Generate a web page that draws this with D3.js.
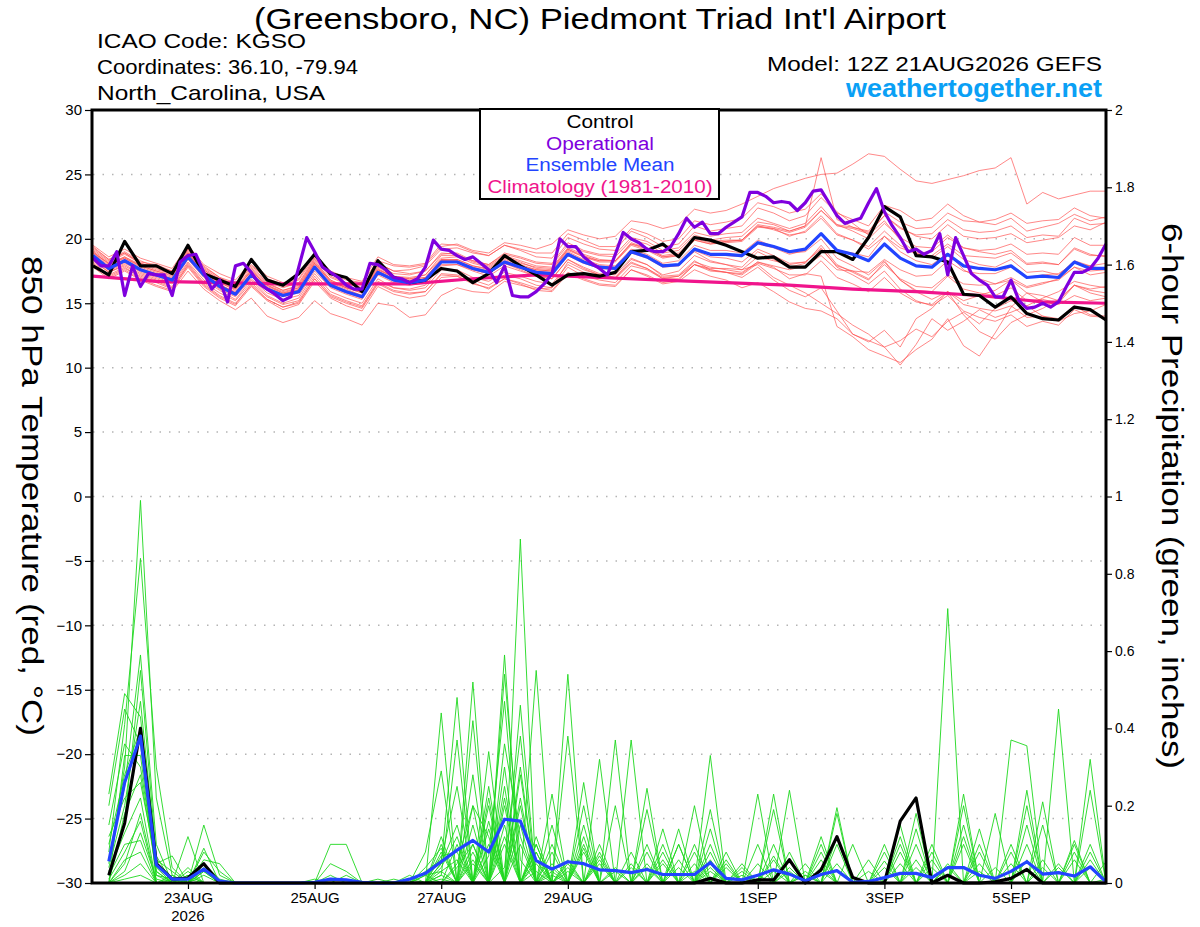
<!DOCTYPE html>
<html>
<head>
<meta charset="utf-8">
<script src="https://cdn.jsdelivr.net/npm/d3@7"></script>
<style>
  body { margin: 0; background: #fff; }
  svg { display: block; }
</style>
</head>
<body>
<svg id="chart" width="1200" height="927"></svg>
<script>

// run: 12Z 21AUG2026, 6-hourly steps 0..64 (operational at 3-hourly 0..128)
var runStart = Date.UTC(2026, 7, 21, 12);

var tempTicks = [-30, -25, -20, -15, -10, -5, 0, 5, 10, 15, 20, 25, 30];
var precipTicks = [0, 0.2, 0.4, 0.6, 0.8, 1, 1.2, 1.4, 1.6, 1.8, 2];
var dateTicks = ["2026-08-23", "2026-08-25", "2026-08-27", "2026-08-29", "2026-09-01", "2026-09-03", "2026-09-05"];

var controlTemp = [17.9,17.2,19.8,17.9,17.9,17.3,19.5,17.3,16.8,16.3, 18.4,16.8,16.4,17.3,18.8,17.3,17.0,15.9,18.3,17.0,
    16.6,16.8,17.7,17.5,16.6,17.3,18.7,17.9,17.2,16.4, 17.2,17.3,17.1,17.4,19.0,19.1,19.6,18.6,20.1,19.9,
    19.5,19.0,18.5,18.6,17.8,17.8,19.0,19.0,18.4,20.1, 22.5,21.7,18.7,18.6,18.2,15.7,15.6,14.7,15.5,14.2,
    13.8,13.7,14.7,14.5,13.7];

var meanTemp = [18.7,17.7,18.3,17.6,17.2,16.8,18.6,17.2,16.3,15.7, 17.2,16.1,15.6,15.9,17.8,16.4,15.9,15.5,17.4,16.8,
    16.6,16.8,18.2,18.2,17.7,17.4,18.2,17.8,17.4,17.3, 18.8,18.2,17.8,17.7,19.0,18.6,17.9,18.0,19.2,18.8,
    18.8,18.7,19.7,19.4,19.0,19.2,20.4,19.1,18.8,18.3, 19.6,18.5,17.9,17.8,18.8,17.9,17.7,17.6,17.9,17.0,
    17.1,17.0,18.2,17.7,17.7];

var operationalTemp = [18.5,17.9,17.9,19.0,15.6,17.9,16.3,17.3,17.2,17.2, 15.6,18.2,18.7,18.8,17.4,16.1,16.8,15.1,17.9,18.1,
    17.4,16.5,16.1,15.7,15.2,15.5,17.8,20.1,19.0,17.8, 17.4,17.0,16.4,16.1,16.1,18.1,18.0,17.6,17.0,16.9,
    16.6,16.9,17.8,19.9,19.2,19.1,18.7,18.4,18.6,18.1, 17.6,16.6,17.9,15.6,15.5,15.5,15.9,16.5,17.3,20.0,
    19.4,19.4,18.6,18.1,17.7,17.2,18.8,20.5,20.0,19.7, 19.2,19.0,19.0,19.4,20.4,21.6,20.9,21.3,20.4,20.4,
    20.9,21.3,21.7,23.6,23.6,23.3,22.8,22.9,22.8,22.2, 22.8,23.7,23.8,22.8,21.8,21.2,21.4,21.6,22.8,23.9,
    22.1,21.0,20.1,19.0,19.2,18.8,19.1,20.4,17.2,20.1, 18.7,17.3,16.8,16.4,15.5,15.5,16.8,15.2,14.6,14.7,
    15.0,14.7,15.1,16.3,17.4,17.4,17.7,18.5,19.6];

// climatology, one value per day at 12Z
var climTemp = [17.1,16.7,16.6,16.5,16.5,16.5,16.9,17.2,17.0,16.8,16.6,16.4,16.1,15.9,15.6,15.1,15.0];

var tempMembers = [
  [19.3,18.4,18.9,18.2,18.0,17.5,19.2,17.9,17.0,16.6, 17.9,16.9,16.5,16.8,18.6,17.3,16.8,16.6,18.3,17.9, 17.8,18.0,19.4,19.6,19.1,18.9,19.7,19.5,19.2,19.6, 20.7,20.3,20.0,20.2,21.4,21.2,20.8,21.1,22.3,22.0, 22.2,22.7,23.3,23.9,24.3,24.7,25.0,25.1,25.8,26.6, 26.4,25.4,24.5,24.3,24.6,24.9,25.3,25.5,26.3,22.7, 23.6,23.1,23.4,23.7,23.7],
  [18.2,17.2,17.8,17.0,16.6,16.1,18.0,16.5,15.6,15.0, 16.4,15.3,14.7,15.0,16.9,15.5,15.0,14.6,16.5,15.9, 15.7,15.9,17.3,17.2,16.8,16.4,17.2,16.9,16.4,16.2, 17.8,17.1,16.8,16.6,17.9,17.6,16.9,17.1,18.0,17.6, 17.4,17.3,18.2,17.8,16.9,17.3,17.1,13.2,12.4,11.4, 10.9,10.4,11.4,12.2,13.8,11.7,10.9,12.7,14.7,15.8, 15.1,14.9,15.6,15.2,15.4],
  [19.0,18.0,18.6,18.0,17.6,17.3,18.9,17.6,16.8,16.2, 17.7,16.6,16.0,16.4,18.3,16.8,16.2,15.9,17.9,17.3, 17.2,17.5,18.8,18.9,18.3,18.0,18.8,18.5,18.1,18.0, 19.5,19.0,18.7,18.6,19.9,19.6,18.9,19.1,20.3,19.9, 20.1,20.2,21.3,21.1,20.6,21.0,26.3,21.5,20.9,20.5, 21.8,20.9,20.2,20.0,21.1,20.2,20.0,20.1,20.4,19.7, 19.9,20.1,21.0,20.7,21.3],
  [18.0,17.0,17.6,16.9,16.4,16.0,17.8,16.3,15.4,14.8, 16.3,15.2,14.5,14.9,16.7,15.4,14.8,14.4,16.3,15.7, 15.4,15.6,17.0,17.1,16.6,16.1,16.9,16.6,16.2,16.0, 17.4,16.9,16.5,16.4,17.6,17.1,16.5,16.7,17.6,17.1, 16.8,16.2,16.6,15.9,15.1,14.6,14.4,13.8,12.6,12.1, 11.6,10.2,11.8,13.8,12.9,13.6,14.5,13.9,14.3,14.8, 14.0,13.6,14.2,14.4,14.9],
  [19.5,18.6,19.2,18.5,18.1,17.7,19.5,18.0,17.3,16.8, 18.2,17.1,16.6,16.9,18.8,17.5,17.0,16.7,18.6,18.0, 17.9,18.1,19.6,19.5,19.0,18.7,19.5,19.1,18.6,18.5, 20.1,19.6,19.2,19.1,20.6,20.1,19.4,19.6,21.0,20.6, 20.8,21.0,22.4,22.0,21.4,21.8,23.2,22.0,21.5,21.0, 22.6,22.2,21.4,21.6,22.7,21.8,21.3,21.1,21.6,20.6, 20.9,21.2,21.9,21.4,21.7],
  [17.8,16.9,17.5,16.8,16.3,15.9,17.5,16.1,15.2,14.5, 15.4,14.0,13.5,13.9,15.2,14.2,13.8,13.3,15.0,14.8, 13.9,14.1,15.6,16.2,15.9,15.8,16.7,16.4,16.1,16.2, 18.2,17.6,17.2,17.0,18.4,18.0,17.2,17.5,18.7,18.2, 18.0,17.8,19.0,18.4,17.8,18.1,19.5,18.0,17.4,16.8, 18.2,16.8,16.0,15.9,17.1,16.1,15.8,15.6,16.2,15.2, 15.3,15.0,16.4,16.0,15.8],
  [18.9,18.1,18.5,17.9,17.5,17.2,18.8,17.4,16.6,16.0, 17.5,16.4,15.9,16.2,18.1,16.7,16.2,15.8,17.7,17.0, 16.9,17.2,18.5,18.6,18.1,17.8,18.6,18.2,17.7,17.6, 19.2,18.6,18.2,18.2,19.5,19.1,18.5,18.7,19.9,19.6, 19.8,19.9,21.0,20.8,20.2,20.6,21.8,20.4,19.9,19.2, 20.2,19.0,18.3,18.0,18.9,17.6,16.9,16.5,16.8,15.8, 15.6,15.2,16.4,15.8,15.5],
  [18.5,17.6,18.2,17.4,17.0,16.6,18.4,17.0,16.1,15.5, 16.9,15.8,15.3,15.6,17.5,16.2,15.7,15.3,17.2,16.6, 16.4,16.6,18.0,18.0,17.5,17.1,17.9,17.5,17.1,16.9, 18.4,17.8,17.3,17.2,18.5,18.0,17.1,17.2,18.3,17.6, 17.4,17.0,17.8,16.8,16.0,15.5,16.2,14.4,12.6,12.0, 12.9,11.6,13.8,14.6,15.9,15.2,15.6,16.0,16.8,16.2, 16.5,16.9,17.8,17.2,17.4],
  [19.1,18.2,18.8,18.1,17.8,17.4,19.1,17.7,16.9,16.4, 18.0,16.9,16.3,16.5,18.4,17.0,16.5,16.2,18.1,17.5, 17.6,17.9,19.2,19.3,18.9,18.7,19.5,19.2,18.9,18.9, 20.4,19.9,19.4,19.4,20.8,20.4,19.8,20.0,21.4,21.1, 21.3,21.6,22.8,22.5,22.0,22.3,23.5,22.1,21.2,20.3, 21.4,19.9,18.9,18.5,19.4,18.4,18.0,17.8,18.4,17.4, 17.5,17.2,18.3,17.9,17.6],
  [18.4,17.4,18.0,17.3,16.9,16.5,18.2,16.8,16.0,15.3, 16.8,15.6,15.0,15.4,17.3,15.9,15.4,15.0,16.9,16.2, 16.0,16.2,17.6,17.6,17.0,16.7,17.4,17.1,16.7,16.5, 18.0,17.4,17.0,16.9,18.1,17.7,17.0,17.1,18.2,17.8, 17.6,17.4,18.2,17.9,17.6,17.9,18.7,17.6,17.5,17.4, 18.4,17.6,17.1,17.2,18.3,17.5,17.3,17.3,17.8,17.0, 17.2,17.3,18.1,17.9,18.1],
  [18.8,17.8,18.4,17.7,17.3,16.9,18.7,17.3,16.4,15.9, 17.3,16.2,15.7,16.1,17.9,16.5,16.0,15.6,17.5,16.9, 16.7,16.9,18.3,18.3,17.8,17.5,18.3,17.9,17.5,17.4, 18.9,18.3,17.9,17.8,19.1,18.7,18.0,18.0,19.0,18.3, 18.0,17.6,18.0,17.0,16.4,15.8,15.0,14.2,13.3,12.6, 11.6,12.1,13.0,12.4,13.6,14.3,13.4,14.6,15.2,14.8, 15.4,15.9,16.7,16.4,16.2],
  [18.6,17.5,18.1,17.5,17.1,16.7,18.5,17.1,16.2,15.6, 17.1,16.0,15.5,15.8,17.7,16.3,15.8,15.4,17.3,16.8, 16.6,16.8,18.3,18.4,17.9,17.7,18.5,18.1,17.8,17.7, 19.2,18.7,18.3,18.3,19.6,19.2,18.6,18.8,20.0,19.7, 19.8,19.9,21.1,20.9,20.6,21.0,22.2,21.0,20.8,20.4, 21.8,20.8,20.3,20.4,21.5,20.7,20.5,20.6,21.0,20.1, 20.3,20.2,21.6,21.1,21.2],
  [19.2,18.3,18.9,18.1,17.7,17.3,19.0,17.6,16.7,16.1, 17.6,16.5,16.0,16.3,18.2,16.8,16.3,15.9,17.8,17.1, 16.9,17.0,18.4,18.3,17.7,17.3,18.1,17.6,17.1,16.9, 18.4,17.7,17.2,17.0,18.2,17.7,16.9,16.9,18.0,17.5, 17.4,17.2,18.1,17.7,17.2,17.2,18.3,17.0,16.5,15.9, 17.0,15.8,15.1,14.9,15.9,14.9,14.6,14.4,14.8,13.9, 14.0,13.8,14.8,14.1,14.0],
  [18.3,17.4,17.9,17.2,16.8,16.3,18.1,16.6,15.8,15.2, 16.6,15.5,14.9,15.2,17.1,15.7,15.2,14.8,16.7,16.2, 16.1,16.4,17.9,18.0,17.6,17.3,18.2,17.9,17.6,17.5, 19.1,18.6,18.3,18.3,19.6,19.3,18.7,18.9,20.1,19.8, 19.9,19.9,21.0,20.7,20.3,20.5,21.6,20.3,19.9,19.4, 20.6,19.5,18.8,18.7,19.6,18.7,18.6,18.5,18.9,18.0, 18.1,18.0,19.2,18.7,18.7],
  [18.9,17.9,18.5,17.8,17.4,17.0,18.9,17.4,16.5,15.8, 17.4,16.3,15.8,16.0,18.0,16.6,16.1,15.6,17.6,17.0, 16.8,17.0,18.4,18.4,17.9,17.6,18.4,18.0,17.6,17.5, 19.0,18.4,18.0,17.9,19.2,18.8,18.1,18.3,19.5,19.1, 19.1,18.9,19.9,19.4,18.9,19.0,20.0,18.5,17.9,17.2, 18.3,16.8,15.9,15.3,15.9,14.1,12.8,12.2,13.5,14.1, 14.6,15.3,16.4,16.1,16.3],
  [19.4,18.4,19.0,18.3,17.8,17.5,19.2,17.8,17.0,16.4, 17.8,16.7,16.2,16.6,18.5,17.1,16.6,16.2,18.1,17.5, 17.3,17.5,18.9,18.8,18.2,17.9,18.7,18.3,17.9,17.8, 19.3,18.8,18.4,18.3,19.7,19.3,18.6,18.7,19.9,19.6, 19.7,19.8,20.9,20.8,20.5,20.9,22.2,21.1,20.9,20.6, 22.1,21.3,20.8,20.9,22.0,21.4,21.3,21.5,22.0,21.2, 21.4,21.5,22.4,21.8,21.6],
  [18.1,17.1,17.7,17.1,16.7,16.2,17.9,16.4,15.5,14.9, 16.5,15.3,14.7,15.1,16.9,15.6,15.1,14.7,16.6,16.0, 15.8,15.9,17.2,17.1,16.5,16.2,16.9,16.5,16.0,15.9, 17.3,16.8,16.4,16.3,17.6,17.2,16.6,16.8,18.0,17.7, 17.7,17.6,18.6,18.3,18.0,18.2,19.2,17.9,17.5,16.9, 18.0,16.9,16.3,16.2,17.2,16.5,16.4,16.5,17.0,16.3, 16.6,16.8,17.8,17.5,17.6],
  [19.0,18.1,18.6,17.9,17.5,17.1,18.8,17.5,16.6,16.1, 17.5,16.4,15.8,16.2,18.1,16.7,16.2,15.8,17.6,17.1, 17.0,17.2,18.7,18.7,18.3,18.0,18.9,18.6,18.2,18.1, 19.7,19.1,18.8,18.8,20.1,19.8,19.1,19.3,20.5,20.2, 20.4,20.5,21.6,21.2,20.8,21.2,22.5,21.1,20.6,20.0, 21.2,20.1,19.4,19.3,20.3,19.3,19.0,18.8,19.1,18.1, 18.2,18.0,19.3,18.8,18.6],
  [18.6,17.6,18.2,17.6,17.2,16.8,18.6,17.1,16.3,15.7, 17.2,16.1,15.6,15.9,17.8,16.4,15.9,15.5,17.4,16.8, 16.6,16.8,18.2,18.2,17.6,17.3,18.1,17.7,17.3,17.2, 18.7,18.1,17.7,17.6,18.9,18.5,17.8,17.9,19.1,18.6, 18.5,18.2,19.2,18.7,18.1,18.2,19.3,17.8,17.2,16.5, 17.5,16.1,15.2,14.8,15.6,14.4,13.9,13.6,14.1,13.2, 13.6,13.3,14.5,14.0,13.9],
  [18.7,17.8,18.3,17.6,17.3,16.9,18.6,17.3,16.4,15.8, 17.3,16.2,15.7,16.0,17.9,16.4,15.9,15.5,17.5,16.9, 16.7,16.9,18.3,18.2,17.7,17.4,18.1,17.8,17.4,17.3, 18.8,18.2,17.8,17.7,19.0,18.6,17.9,18.0,19.2,18.8, 18.7,18.6,19.6,19.3,18.8,19.1,20.3,19.1,18.9,18.6, 20.2,19.3,18.9,19.0,20.1,19.3,19.1,19.2,19.6,18.8, 18.9,18.8,20.1,19.5,19.5]
];

// 6-hour precipitation (inches), steps 1..64
var controlPrecip = [.02,.155,.4,.05,.01,.013,.05,0, 0,0,0,0,0,0,0,0, 0,0,0,0,0,0,0,0, 0,0,0,0,0,0,0,0,
    0,0,0,0,0,0,.012,0, 0,.008,.008,.06,0,.034,.12,.014, 0,0,.16,.22,0,.02,0,0, .003,.012,.035,0,0,0,0,0];

var meanPrecip = [.056,.26,.38,.047,.01,.01,.036,.005, 0,0,0,0,0,.002,.01,.008, .002,0,0,.01,.025,.055,.085,.11,
    .08,.165,.16,.058,.036,.055,.05,.034, .032,.027,.035,.022,.022,.022,.053,.012, .008,.02,.034,.023,.006,.022,.032,.002,
    .004,.014,.025,.025,.014,.04,.04,.02, .012,.03,.055,.023,.027,.018,.042,.003];

var precipMembers = [
  [.05,.3,.99,.22,.02,0,0,0, 0,0,0,0,0,0,0,0, 0,0,0,0,0,.44,0,.1, 0,.59,0,.55,0,0,.26,0, 0,0,.245,0,0,0,.33,0, 0,0,.23,0,0,.03,0,0, 0,0,.15,0,0,0,.12,0, 0,0,.24,0,0,0,.06,0],
  [.2,.45,.36,.02,.01,0,.15,.02, 0,0,0,0,0,0,0,0, 0,0,0,.02,0,.05,.48,0, .34,0,.89,0,0,.54,0,0, .37,0,0,0,.1,0,0,.05, 0,0,.03,0,.03,0,.05,0, 0,0,0,.18,0,0,0,.14, 0,0,0,0,.45,0,0,0],
  [.02,.16,.55,.07,0,.02,0,0, 0,0,0,0,0,0,.1,.1, 0,0,0,0,0,.1,0,.52, 0,.54,.06,0,.23,0,0,.32, 0,0,0,.14,0,0,.05,0, 0,.23,0,0,0,.04,0,0, .06,0,0,0,0,.71,0,0, 0,0,.06,0,0,0,.08,0],
  [.12,.22,.26,.05,.07,0,.09,0, 0,0,0,0,0,0,0,0, 0,0,0,0,.08,.29,0,0, .16,0,.46,0,0,.38,0,0, .03,0,0,0,0,.2,0,0, .03,0,0,0,.02,0,0,0, 0,.04,0,0,0,0,.23,0, 0,0,0,.06,0,0,0,.055],
  [.23,.49,.43,.03,0,.12,0,0, 0,0,0,0,0,0,0,0, 0,0,.01,0,0,.02,.37,0, .07,.47,0,.12,0,0,.2,0, 0,0,.19,0,0,0,.19,0, 0,0,.19,0,0,0,.195,0, 0,0,0,.14,0,0,0,0, .18,0,0,0,0,.11,0,0],
  [.01,.08,.16,0,0,0,.06,.05, 0,0,0,0,0,0,0,0, 0,0,0,0,0,.08,0,.42, 0,.04,.38,0,.15,0,0,.07, 0,.37,0,0,.14,0,0,.08, 0,0,0,.24,0,0,0,.1, 0,0,0,0,.04,0,0,0, 0,.37,.355,0,0,0,0,0],
  [.08,.41,.84,.3,.04,0,0,0, 0,0,0,0,0,0,0,0, 0,0,0,0,.03,.06,.25,0, 0,.3,0,.1,0,0,.15,0, 0,0,0,.1,0,0,.03,0, 0,.1,0,0,.02,0,0,0, 0,0,.12,0,0,0,.1,0, 0,0,0,.04,0,0,0,.01],
  [.15,.36,.3,.04,0,.04,0,0, 0,0,0,0,0,0,0,0, 0,.01,0,0,0,.12,0,.28, 0,.25,0,.08,0,.05,0,0, 0,.08,0,0,0,.1,0,0, .05,0,0,0,0,.12,0,0, 0,0,0,.1,0,0,0,0, 0,.1,0,0,0,0,.32,0],
  [.03,.13,.22,0,.02,0,.05,0, 0,0,0,0,0,.01,0,0, 0,0,0,0,0,.04,.12,0, .22,0,.3,0,.1,0,0,.1, 0,0,0,.06,0,0,.14,0, 0,0,0,.08,0,0,0,0, 0,.057,0,0,0,.05,0,0, 0,0,.2,0,0,0,0,0],
  [.06,.25,.59,.1,0,0,.04,0, 0,0,0,0,0,0,0,0, 0,0,0,0,.02,.03,0,.06, 0,.2,0,.08,0,0,.12,0, 0,0,.1,0,0,0,.06,0, 0,0,.07,0,0,0,.18,0, 0,0,0,0,.1,0,0,0, 0,.05,0,0,0,0,.24,0],
  [.1,.28,.4,0,0,.03,0,0, 0,0,0,0,0,0,.05,.03, 0,0,0,0,0,.07,.08,0, .14,0,.22,0,.08,0,0,0, .2,0,0,0,.1,0,0,.06, 0,0,0,.03,0,0,0,0, 0,0,0,.04,0,0,0,.1, 0,0,0,0,.05,0,0,0],
  [.04,.2,.47,.06,.03,0,.08,.03, 0,0,0,0,0,0,0,0, 0,0,0,.01,0,.01,0,.2, 0,.15,0,.06,0,.06,0,0, 0,.05,0,0,0,.08,0,0, 0,.05,0,0,0,.1,0,0, 0,0,.1,0,0,0,0,.05, 0,0,0,.21,0,0,0,0],
  [.02,.1,.11,0,0,.01,0,0, 0,0,0,0,0,0,0,0, 0,0,0,0,.04,.09,0,.15, 0,.36,.12,0,.05,0,0,.08, 0,0,0,.08,0,0,.04,0, 0,0,0,.06,0,0,0,0, 0,.1,0,0,0,0,.2,0, 0,0,0,0,0,.1,0,0],
  [0,.33,.33,.02,0,0,.03,0, 0,0,0,0,0,0,0,0, 0,0,0,0,0,.05,.15,0, .1,0,.28,0,.04,0,.1,0, 0,0,.08,0,0,0,.1,0, 0,0,.1,0,0,0,.12,0, 0,0,0,0,.08,0,0,0, 0,.08,0,0,0,0,.1,0],
  [0,.06,.08,0,.01,0,0,0, 0,0,0,0,0,0,0,.02, 0,0,0,0,0,.02,0,.08, 0,.12,0,.05,0,0,0,.06, 0,0,0,0,.06,0,0,0, .04,0,0,0,0,.08,0,0, 0,0,0,.06,0,0,0,0, .04,0,0,0,0,.06,0,0],
  [0,.18,.28,.03,0,0,.05,.01, 0,0,0,0,0,0,0,0, 0,0,0,0,0,.03,.06,0, .25,0,.15,0,0,.04,0,0, .04,0,0,0,0,.05,0,0, 0,0,.06,0,0,0,0,0, .03,0,0,0,0,.04,0,0, 0,0,.15,0,0,0,0,0],
  [0,.05,.18,0,0,.02,0,0, 0,0,0,0,0,0,.02,0, 0,0,0,0,0,0,0,.05, 0,.1,0,.03,0,0,.08,0, 0,0,.05,0,0,0,.08,0, 0,0,0,.04,0,0,0,0, 0,.08,0,0,0,0,.15,0, 0,0,0,.15,0,0,0,0],
  [0,.03,.13,.01,0,0,0,0, 0,0,0,0,0,0,0,0, 0,0,0,0,.02,0,.1,0, .2,0,.2,0,.03,0,0,.05, 0,0,0,.05,0,0,0,.04, 0,0,0,0,.05,0,0,0, 0,0,.08,0,0,0,0,.03, 0,0,0,0,0,.08,0,0],
  [0,.02,.05,0,0,0,.02,0, 0,0,0,0,0,0,0,0, 0,0,0,0,0,0,.04,.1, 0,.22,0,.1,0,.03,0,0, 0,.04,0,0,.04,0,0,0, .02,0,0,0,0,.06,0,0, 0,0,0,0,.06,0,0,0, 0,0,.1,0,0,0,.04,0],
  [0,.01,.02,0,0,0,.03,0, 0,0,0,0,0,0,0,0, 0,0,0,0,0,0,.05,.2, .12,0,.1,0,.02,0,.09,0, 0,0,.04,0,0,.03,0,0, 0,.02,0,0,0,0,.1,0, 0,0,.05,0,0,0,0,.08, 0,0,0,0,.04,0,0,0]
];

var fontStack = "'Liberation Sans', Arial, Helvetica, sans-serif";
var HOUR = 3600 * 1000;

function stepTime(i, hours) {
    return new Date(runStart + i * hours * HOUR);
}

var svg = d3.select("#chart").attr("font-family", fontStack);

var x = d3.scaleUtc().domain([stepTime(0, 6), stepTime(64, 6)]).range([93, 1106]);
var yT = d3.scaleLinear().domain([-30, 30]).range([883, 110]);
var yP = d3.scaleLinear().domain([0, 2]).range([883, 110]);

// header text
function headerText(str, px, py, size, anchor, len, color, weight) {
    svg.append("text")
        .attr("x", px).attr("y", py)
        .attr("text-anchor", anchor)
        .attr("font-size", size)
        .attr("font-weight", weight || "normal")
        .attr("fill", color || "#000")
        .attr("textLength", len)
        .attr("lengthAdjust", "spacingAndGlyphs")
        .text(str);
}
headerText("(Greensboro, NC) Piedmont Triad Int'l Airport", 600, 29, 30, "middle", 692);
headerText("ICAO Code: KGSO", 97, 48, 21, "start", 209);
headerText("Coordinates: 36.10, -79.94", 97, 74, 21, "start", 261);
headerText("North_Carolina, USA", 97, 100, 21, "start", 228);
headerText("Model: 12Z 21AUG2026 GEFS", 1102, 71, 21, "end", 335);
headerText("weathertogether.net", 1102, 97, 25, "end", 256, "#0aa0f5", "bold");

// dotted grid
svg.append("g").selectAll("line")
    .data(tempTicks.filter(function (d) { return d > -30 && d < 30; }))
    .enter().append("line")
    .attr("x1", 93).attr("x2", 1106)
    .attr("y1", function (d) { return yT(d); })
    .attr("y2", function (d) { return yT(d); })
    .style("stroke", "#b4b4b4")
    .style("stroke-width", 1.5)
    .style("stroke-dasharray", "1.5,8");

var tempLine = d3.line()
    .x(function (d, i) { return x(stepTime(i, 6)); })
    .y(function (d) { return yT(d); });
var opLine = d3.line()
    .x(function (d, i) { return x(stepTime(i, 3)); })
    .y(function (d) { return yT(d); });
var climLine = d3.line()
    .x(function (d, i) { return x(stepTime(i, 24)); })
    .y(function (d) { return yT(d); });
var precipLine = d3.line()
    .x(function (d, i) { return x(stepTime(i + 1, 6)); })
    .y(function (d) { return yP(d); });

// ensemble members
svg.append("g").selectAll("path").data(tempMembers).enter().append("path")
    .attr("d", tempLine)
    .style("fill", "none")
    .style("stroke", "#ff4d4d")
    .style("stroke-opacity", 0.75)
    .style("stroke-width", 0.9);

svg.append("g").selectAll("path").data(precipMembers).enter().append("path")
    .attr("d", precipLine)
    .style("fill", "none")
    .style("stroke", "#1ed81e")
    .style("stroke-width", 0.9);

function thick(d, gen, color) {
    svg.append("path")
        .attr("d", gen(d))
        .style("fill", "none")
        .style("stroke", color)
        .style("stroke-width", 3.2)
        .style("stroke-linejoin", "round");
}
thick(climTemp, climLine, "#f0148c");
thick(controlPrecip, precipLine, "#000");
thick(meanPrecip, precipLine, "#2244ff");
thick(controlTemp, tempLine, "#000");
thick(meanTemp, tempLine, "#2244ff");
thick(operationalTemp, opLine, "#7f00de");

// axes
function styleAxis(g, size) {
    g.attr("font-family", fontStack).attr("font-size", size);
    g.select(".domain").remove();
    g.selectAll(".tick line").style("stroke", "#000").style("stroke-width", 1.2);
    g.selectAll(".tick text").attr("fill", "#000");
}

svg.append("g")
    .attr("transform", "translate(92,0)")
    .call(d3.axisLeft(yT).tickValues(tempTicks).tickSize(7).tickPadding(3))
    .call(styleAxis, 15);

svg.append("g")
    .attr("transform", "translate(1106,0)")
    .call(d3.axisRight(yP).tickValues(precipTicks).tickSize(6).tickPadding(3)
        .tickFormat(function (d) { return String(d); }))
    .call(styleAxis, 14);

var fmtDay = d3.utcFormat("%-d%b");
svg.append("g")
    .attr("transform", "translate(0,883)")
    .call(d3.axisBottom(x)
        .tickValues(dateTicks.map(function (s) { return new Date(s + "T00:00:00Z"); }))
        .tickSize(6).tickPadding(3)
        .tickFormat(function (d) { return fmtDay(d).toUpperCase(); }))
    .call(styleAxis, 15);

svg.append("text")
    .attr("x", x(new Date(dateTicks[0] + "T00:00:00Z")))
    .attr("y", 921)
    .attr("text-anchor", "middle")
    .attr("font-size", 15)
    .text("2026");

// frame
svg.append("rect")
    .attr("x", 92).attr("y", 110)
    .attr("width", 1014).attr("height", 773)
    .style("fill", "none")
    .style("stroke", "#000")
    .style("stroke-width", 3);

// axis titles
svg.append("text")
    .attr("transform", "translate(22,496) rotate(90)")
    .attr("text-anchor", "middle")
    .attr("font-size", 30)
    .attr("textLength", 480)
    .attr("lengthAdjust", "spacingAndGlyphs")
    .text("850 hPa Temperature (red, \u00B0C)");

svg.append("text")
    .attr("transform", "translate(1162,496) rotate(90)")
    .attr("text-anchor", "middle")
    .attr("font-size", 30)
    .attr("textLength", 546)
    .attr("lengthAdjust", "spacingAndGlyphs")
    .text("6-hour Precipitation (green, inches)");

// legend
var legendItems = [
    { label: "Control", color: "#000", len: 67 },
    { label: "Operational", color: "#7f00de", len: 108 },
    { label: "Ensemble Mean", color: "#2244ff", len: 149 },
    { label: "Climatology (1981-2010)", color: "#f0148c", len: 225 }
];
svg.append("rect")
    .attr("x", 480).attr("y", 109)
    .attr("width", 239).attr("height", 90)
    .style("fill", "#fff")
    .style("stroke", "#000")
    .style("stroke-width", 2);
svg.append("g").selectAll("text").data(legendItems).enter().append("text")
    .attr("x", 600)
    .attr("y", function (d, i) { return 128 + i * 21.5; })
    .attr("text-anchor", "middle")
    .attr("font-size", 18)
    .attr("fill", function (d) { return d.color; })
    .attr("textLength", function (d) { return d.len; })
    .attr("lengthAdjust", "spacingAndGlyphs")
    .text(function (d) { return d.label; });

</script>
</body>
</html>
